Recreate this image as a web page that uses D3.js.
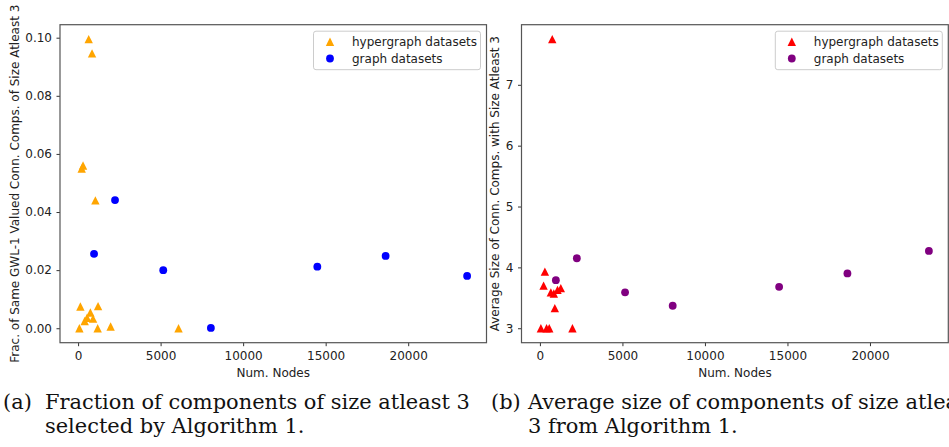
<!DOCTYPE html>
<html>
<head>
<meta charset="utf-8">
<script src="https://cdn.jsdelivr.net/npm/d3@7/dist/d3.min.js"></script>
<style>
	body { margin: 0; background: #fff; }
	svg { display: block; font-family: "DejaVu Sans", sans-serif; }
	.caption { font-family: "DejaVu Serif", serif; fill: #111; }
</style>
</head>
<body>
<svg id="chart" width="949" height="447"></svg>
<script>
	//panel (a) hypergraph datasets
var hyperNodesA = [643, 846, 300, 220, 1047, 140, 1210, 744, 545, 400, 907, 79, 1186, 1972, 6086];
var hyperFracA = [0.0995, 0.0946, 0.056, 0.055, 0.044, 0.0075, 0.0076, 0.0054, 0.0036, 0.0025, 0.0033, 0, 0, 0.0006, 0];

	//panel (b) hypergraph datasets
var hyperNodesB = [748, 302, 223, 663, 844, 1067, 1266, 904, 60, 404, 567, 1972];
var hyperAvgB = [7.75, 3.93, 3.70, 3.59, 3.57, 3.63, 3.66, 3.33, 3, 3, 3, 3];

	//graph datasets (same in both panels)
var graphNodes = [2238, 967, 5160, 8046, 14495, 18633, 23570];
var graphFrac = [0.0441, 0.0256, 0.0200, 0.0001, 0.0212, 0.0249, 0.0180];
var graphAvg = [4.15, 3.79, 3.59, 3.37, 3.68, 3.90, 4.27];

var xTicks = [0, 5000, 10000, 15000, 20000];
var yTicksA = [0, 0.02, 0.04, 0.06, 0.08, 0.10];
var yTicksB = [3, 4, 5, 6, 7];

var legendLabels = ['hypergraph datasets', 'graph datasets'];

var svg = d3.select('#chart');

	//matplotlib style 5% margin around data
function padExtent(values) {
	var ext = d3.extent(values);
	var m = (ext[1] - ext[0]) * 0.05;
	return [ext[0] - m, ext[1] + m];
}

function trianglePath(cx, cy) {
	var h = 4.2;
	return 'M' + cx + ',' + (cy - h) + 'L' + (cx + h) + ',' + (cy + h) + 'L' + (cx - h) + ',' + (cy + h) + 'Z';
}

function drawPanel(cfg) {
	var x = d3.scaleLinear()
		.domain(padExtent(cfg.triX.concat(cfg.dotX)))
		.range([cfg.left, cfg.right]);
	var y = d3.scaleLinear()
		.domain(padExtent(cfg.triY.concat(cfg.dotY)))
		.range([cfg.bottom, cfg.top]);

	var g = svg.append('g');

		//axes
	var xAxis = g.append('g')
		.attr('transform', 'translate(0,' + cfg.bottom + ')')
		.call(d3.axisBottom(x).tickValues(xTicks).tickSize(3.5).tickPadding(5.5).tickFormat(d3.format('d')));
	var yAxis = g.append('g')
		.attr('transform', 'translate(' + cfg.left + ',0)')
		.call(d3.axisLeft(y).tickValues(cfg.yTicks).tickSize(3.5).tickPadding(4.5).tickFormat(cfg.yFormat));

	[xAxis, yAxis].forEach(function(a) {
		a.select('.domain').remove();
		a.selectAll('line').attr('stroke', '#333').attr('stroke-width', 1);
		a.selectAll('text').attr('fill', '#222').style('font-size', '12px').style('font-family', '"DejaVu Sans", sans-serif');
	});

		//frame
	g.append('rect')
		.attr('x', cfg.left)
		.attr('y', cfg.top)
		.attr('width', cfg.right - cfg.left)
		.attr('height', cfg.bottom - cfg.top)
		.attr('fill', 'none')
		.attr('stroke', '#555')
		.attr('stroke-width', 1.2);

		//labels
	g.append('text')
		.attr('x', (cfg.left + cfg.right) / 2)
		.attr('y', 376.5)
		.attr('text-anchor', 'middle')
		.attr('fill', '#222')
		.style('font-size', '12px')
		.text('Num. Nodes');

	g.append('text')
		.attr('transform', 'translate(' + cfg.ylabelX + ',' + ((cfg.top + cfg.bottom) / 2) + ') rotate(-90)')
		.attr('text-anchor', 'middle')
		.attr('fill', '#222')
		.style('font-size', '12px')
		.text(cfg.ylabel);

		//points
	g.selectAll('.tri')
		.data(d3.zip(cfg.triX, cfg.triY))
		.enter().append('path')
		.attr('class', 'tri')
		.attr('d', function(d) { return trianglePath(x(d[0]), y(d[1])); })
		.attr('fill', cfg.triColor);

	g.selectAll('.dot')
		.data(d3.zip(cfg.dotX, cfg.dotY))
		.enter().append('circle')
		.attr('class', 'dot')
		.attr('cx', function(d) { return x(d[0]); })
		.attr('cy', function(d) { return y(d[1]); })
		.attr('r', 3.9)
		.attr('fill', cfg.dotColor);

		//legend
	var lw = 167, lh = 38.5;
	var lx = cfg.right - 6 - lw, ly = cfg.top + 6.5;
	var leg = g.append('g').attr('transform', 'translate(' + lx + ',' + ly + ')');
	leg.append('rect')
		.attr('width', lw)
		.attr('height', lh)
		.attr('rx', 2.5)
		.attr('fill', '#fff')
		.attr('fill-opacity', 0.8)
		.attr('stroke', '#ccc');
	leg.append('path').attr('d', trianglePath(16.5, 10.5)).attr('fill', cfg.triColor);
	leg.append('circle').attr('cx', 16.5).attr('cy', 27.3).attr('r', 3.9).attr('fill', cfg.dotColor);
	leg.selectAll('.legtext')
		.data(legendLabels)
		.enter().append('text')
		.attr('class', 'legtext')
		.attr('x', 38.5)
		.attr('y', function(d, i) { return 15 + i * 16.7; })
		.attr('fill', '#222')
		.style('font-size', '12px')
		.text(function(d) { return d; });
}

drawPanel({
	left: 60, right: 486.5, top: 24.7, bottom: 342.7,
	triX: hyperNodesA, triY: hyperFracA,
	dotX: graphNodes, dotY: graphFrac,
	triColor: '#ffa500', dotColor: '#0000ff',
	yTicks: yTicksA, yFormat: d3.format('.2f'),
	ylabelX: 19,
	ylabel: 'Frac. of Same GWL-1 Valued Conn. Comps. of Size Atleast 3'
});

drawPanel({
	left: 521.5, right: 948.3, top: 24.7, bottom: 342.7,
	triX: hyperNodesB, triY: hyperAvgB,
	dotX: graphNodes, dotY: graphAvg,
	triColor: '#ff0000', dotColor: '#800080',
	yTicks: yTicksB, yFormat: d3.format('d'),
	ylabelX: 499,
	ylabel: 'Average Size of Conn. Comps. with Size Atleast 3'
});

	//captions, font size fitted to the reference line width
var probe = svg.append('text').attr('class', 'caption').style('font-size', '18px').text('Fraction of components of size atleast 3');
var capSize = 18 * 425 / probe.node().getComputedTextLength();
probe.remove();

var captions = [
	{ tag: '(a)', tagX: 3, bodyX: 45, lines: ['Fraction of components of size atleast 3', 'selected by Algorithm 1.'] },
	{ tag: '(b)', tagX: 491, bodyX: 528, lines: ['Average size of components of size atleast', '3 from Algorithm 1.'] }
];

captions.forEach(function(c) {
	svg.append('text').attr('class', 'caption').attr('x', c.tagX).attr('y', 409).style('font-size', capSize + 'px').text(c.tag);
	c.lines.forEach(function(line, i) {
		svg.append('text').attr('class', 'caption').attr('x', c.bodyX).attr('y', 409 + i * 24).style('font-size', capSize + 'px').text(line);
	});
});
</script>
</body>
</html>
